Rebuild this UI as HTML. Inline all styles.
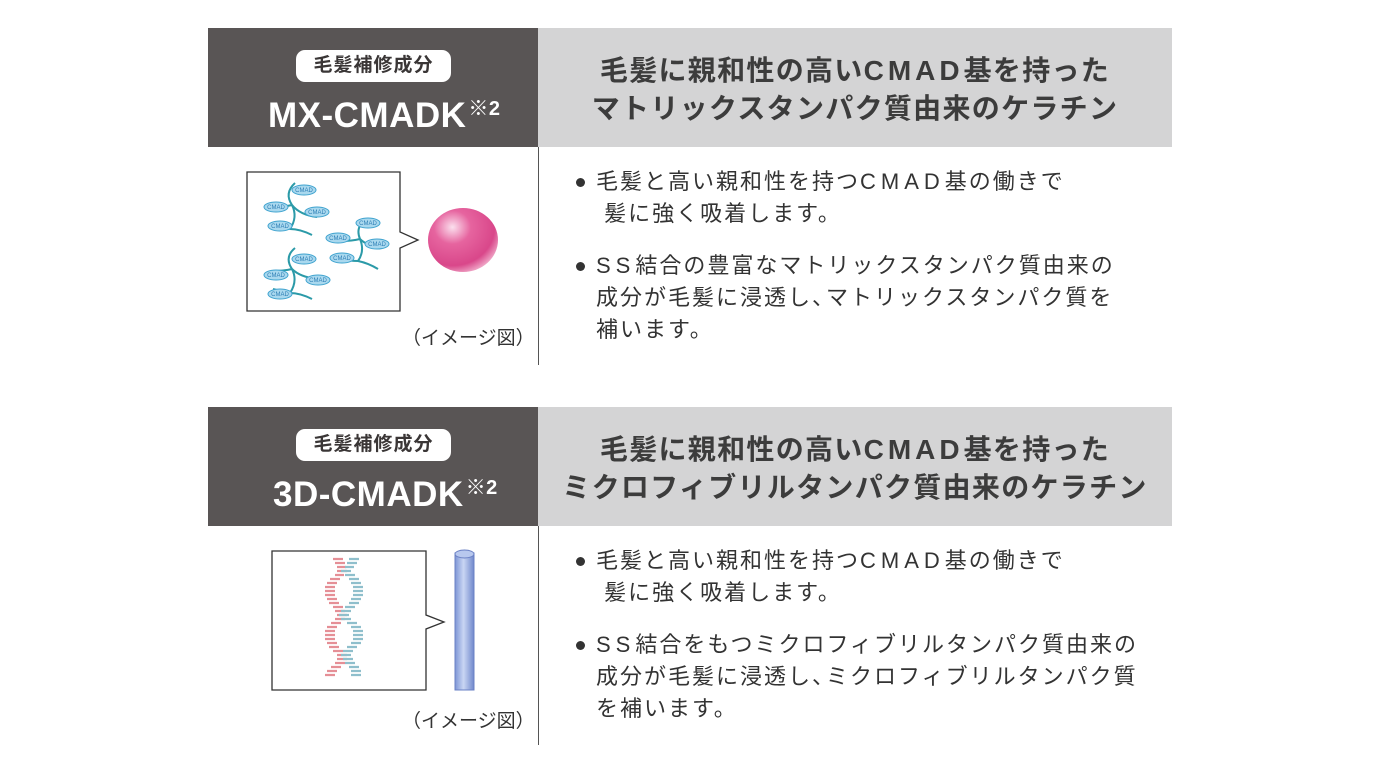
<!DOCTYPE html>
<html><head><meta charset="utf-8"><style>
*{margin:0;padding:0;box-sizing:border-box}
body{width:1380px;height:776px;background:#fff;position:relative;overflow:hidden;font-family:"Liberation Sans","Noto Sans CJK JP",sans-serif;color:#3a3a3a}
.a{position:absolute}
.dark{background:#595555}
.gray{background:#d4d4d5}
.pill{background:#fff;border-radius:9px;color:#3a3636;font-weight:bold;font-size:19px;text-align:center;line-height:32px;letter-spacing:1px}
.name{color:#fff;font-weight:bold;font-size:35px;white-space:nowrap;letter-spacing:0.5px}
.name sup{font-size:20px;vertical-align:top;position:relative;top:-4px;margin-left:2px}
.ht{font-size:28px;font-weight:bold;color:#3c3c3c;text-align:center;line-height:38px;letter-spacing:1.3px;white-space:nowrap}
.ht .l{letter-spacing:4px}
.bt{font-size:22px;line-height:32px;letter-spacing:2px;white-space:nowrap;color:#333}
.bt .l{letter-spacing:5px}
.bt .c{letter-spacing:-8px}
.dot{width:9px;height:9px;border-radius:50%;background:#333}
.vl{width:1px;background:#555}
.cap{font-size:19px;color:#333;letter-spacing:0}
</style></head><body>

<!-- block 1 -->
<div class="a dark" style="left:208px;top:28px;width:330px;height:119px"></div>
<div class="a gray" style="left:538px;top:28px;width:634px;height:119px"></div>
<div class="a pill" style="left:296px;top:50px;width:155px;height:32px">毛髪補修成分</div>
<div class="a name" style="left:268px;top:96px">MX-CMADK<sup>※2</sup></div>
<div class="a ht" style="left:538px;top:52px;width:634px">毛髪に親和性の高い<span class="l">CMAD</span>基を持った<br>マトリックスタンパク質由来のケラチン</div>
<div class="a vl" style="left:538px;top:147px;height:218px"></div>
<div class="a dot" style="left:576px;top:178px"></div>
<div class="a bt" style="left:596px;top:166px">毛髪と高い親和性を持つ<span class="l">CMAD</span>基の働きで<br>&nbsp;髪に強く吸着します。</div>
<div class="a dot" style="left:576px;top:262px"></div>
<div class="a bt" style="left:596px;top:250px"><span class="l">SS</span>結合の豊富なマトリックスタンパク質由来の<br>成分が毛髪に浸透し<span class="c">、</span>マトリックスタンパク質を<br>補います。</div>
<div class="a cap" style="left:402px;top:323px">（イメージ図）</div>

<svg class="a" style="left:240px;top:165px" width="280" height="160">
<defs><radialGradient id="sp" cx="0.35" cy="0.3" r="0.75"><stop offset="0" stop-color="#fbe0ee"/><stop offset="0.35" stop-color="#e6649f"/><stop offset="0.8" stop-color="#d9478a"/><stop offset="1" stop-color="#f0a8c8"/></radialGradient></defs>
<path d="M7 7 H160 V67 L178 75 L160 83 V146 H7 Z" fill="#fff" stroke="#333" stroke-width="1.3"/>
<g fill="none" stroke="#2b9aa8" stroke-width="2">
<path d="M55 18 Q44 28 52 40 Q58 52 50 64 M52 40 Q60 50 77 52 M50 64 Q60 64 72 70 M52 40 Q44 42 32 42 M50 64 Q40 62 33 60"/>
<path d="M126 54 Q115 62 120 74 Q125 86 118 96 M120 74 Q128 82 144 82 M118 96 Q128 98 138 104 M120 74 Q112 76 102 76 M118 96 Q110 96 100 94"/>
<path d="M55 83 Q44 92 52 104 Q58 116 50 128 M52 104 Q60 112 77 114 M50 128 Q60 128 72 134 M52 104 Q44 106 32 106 M50 128 Q40 126 33 124"/>
</g>
<g fill="#a9d8ee" stroke="#3fa3cf" stroke-width="1">
<ellipse cx="64" cy="25" rx="12" ry="5"/><ellipse cx="36" cy="42" rx="12" ry="5"/><ellipse cx="77" cy="47" rx="12" ry="5"/><ellipse cx="40" cy="61" rx="12" ry="5"/>
<ellipse cx="128" cy="58" rx="12" ry="5"/><ellipse cx="98" cy="73" rx="12" ry="5"/><ellipse cx="137" cy="79" rx="12" ry="5"/><ellipse cx="102" cy="93" rx="12" ry="5"/>
<ellipse cx="64" cy="94" rx="12" ry="5"/><ellipse cx="36" cy="110" rx="12" ry="5"/><ellipse cx="78" cy="115" rx="12" ry="5"/><ellipse cx="40" cy="129" rx="12" ry="5"/>
</g>
<g font-size="6" fill="#2f7fb5" text-anchor="middle" font-family="Liberation Sans">
<text x="64" y="27">CMAD</text><text x="36" y="44">CMAD</text><text x="77" y="49">CMAD</text><text x="40" y="63">CMAD</text>
<text x="128" y="60">CMAD</text><text x="98" y="75">CMAD</text><text x="137" y="81">CMAD</text><text x="102" y="95">CMAD</text>
<text x="64" y="96">CMAD</text><text x="36" y="112">CMAD</text><text x="78" y="117">CMAD</text><text x="40" y="131">CMAD</text>
</g>
<ellipse cx="223" cy="75" rx="35" ry="32" fill="url(#sp)"/>
</svg>

<!-- block 2 -->
<div class="a dark" style="left:208px;top:407px;width:330px;height:119px"></div>
<div class="a gray" style="left:538px;top:407px;width:634px;height:119px"></div>
<div class="a pill" style="left:296px;top:429px;width:155px;height:32px">毛髪補修成分</div>
<div class="a name" style="left:273px;top:475px">3D-CMADK<sup>※2</sup></div>
<div class="a ht" style="left:538px;top:431px;width:634px">毛髪に親和性の高い<span class="l">CMAD</span>基を持った<br>ミクロフィブリルタンパク質由来のケラチン</div>
<div class="a vl" style="left:538px;top:526px;height:219px"></div>
<div class="a dot" style="left:576px;top:557px"></div>
<div class="a bt" style="left:596px;top:545px">毛髪と高い親和性を持つ<span class="l">CMAD</span>基の働きで<br>&nbsp;髪に強く吸着します。</div>
<div class="a dot" style="left:576px;top:641px"></div>
<div class="a bt" style="left:596px;top:629px"><span class="l">SS</span>結合をもつミクロフィブリルタンパク質由来の<br>成分が毛髪に浸透し<span class="c">、</span>ミクロフィブリルタンパク質<br>を補います。</div>
<div class="a cap" style="left:402px;top:706px">（イメージ図）</div>

<svg class="a" style="left:265px;top:545px" width="220" height="155">
<defs><linearGradient id="cy" x1="0" x2="1"><stop offset="0" stop-color="#7d95d6"/><stop offset="0.45" stop-color="#c9d6f3"/><stop offset="1" stop-color="#7088cc"/></linearGradient></defs>
<path d="M7 6 H161 V70 L179 77 L161 84 V145 H7 Z" fill="#fff" stroke="#333" stroke-width="1.3"/>
<rect x="190" y="8" width="19" height="137" fill="url(#cy)" stroke="#6a80c4" stroke-width="1"/>
<ellipse cx="199.5" cy="9" rx="9.5" ry="4" fill="#b8c8ee" stroke="#6a80c4"/>
<g stroke-width="2.2">
<path d="M68 14h10M70 18h10M72 22h9M72 26h10M70 30h9M65 34h10M62 38h10M60 42h10M60 46h10M60 50h10M62 54h10M64 58h10M68 62h10M70 66h10M72 70h10M70 74h10M66 78h10M62 82h10M60 86h10M60 90h10M60 94h10M62 98h10M64 102h10M68 106h10M72 110h10M72 114h10M70 118h10M66 122h10M62 126h10M60 130h10" stroke="#e58f96"/>
<path d="M84 14h10M82 18h10M80 22h9M76 26h10M80 30h10M84 34h10M86 38h10M88 42h10M88 46h10M88 50h10M86 54h10M84 58h10M80 62h10M76 66h10M74 70h10M76 74h10M82 78h10M86 82h10M88 86h10M88 90h10M88 94h10M86 98h10M82 102h10M78 106h10M76 110h10M78 114h10M80 118h10M84 122h10M86 126h10M86 130h10" stroke="#8fbfcc"/>
</g>
</svg>
</body></html>
